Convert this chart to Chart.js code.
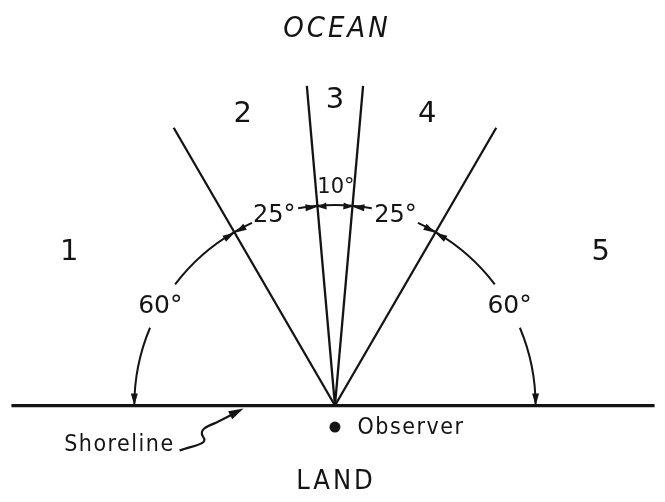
<!DOCTYPE html>
<html>
<head>
<meta charset="utf-8">
<script src="https://cdn.jsdelivr.net/npm/chart.js@4.4.1/dist/chart.umd.min.js"></script>
<style>
    html, body { margin: 0; padding: 0; background: #fff; }
    #wrap { width: 665px; height: 502px; }
</style>
</head>
<body>
<div id="wrap"><canvas id="diagram" width="665" height="502"></canvas></div>
<script>
// Sector edges in degrees, measured from the shoreline on the left
const sectorEdges = [0, 60, 85, 95, 120, 180];
const sectorLabels = ['1', '2', '3', '4', '5'];
// angle of each sector, used for the labels on the arcs
const sectorWidths = sectorEdges.slice(1).map((e, i) => e - sectorEdges[i]);
const boundaryAngles = sectorEdges.slice(1, -1);
const regionLabels = ['OCEAN', 'LAND'];
const observerLabel = 'Observer';
const shoreLabel = 'Shoreline';

// layout (diagram units = pixels, origin at the observer point on the shore)
const rayLength = 328;
const arcRadius = 204;
const labelRadius = 312;
const ink = '#141414';

function polar(angle, r) {
    const rad = angle * Math.PI / 180;
    return { x: -r * Math.cos(rad), y: r * Math.sin(rad) };
}

const rayDatasets = boundaryAngles.map(a => ({
    data: [{ x: 0, y: 0 }, polar(a, rayLength)],
    showLine: true,
    borderColor: ink,
    borderWidth: 2.3,
    pointRadius: 0
}));

// arcs, arrowheads and lettering
const annotations = {
    id: 'annotations',
    afterDatasetsDraw(chart) {
        const ctx = chart.ctx;
        const xs = chart.scales.x, ys = chart.scales.y;
        const px = v => xs.getPixelForValue(v);
        const py = v => ys.getPixelForValue(v);
        const cx = px(0), cy = py(0);
        const r = px(arcRadius) - cx;
        const toPix = (a, rr) => {
            const p = polar(a, rr);
            return [px(p.x), py(p.y)];
        };

        ctx.save();
        ctx.strokeStyle = ink;
        ctx.fillStyle = ink;
        ctx.lineWidth = 2;

        function arrowHead(tipX, tipY, dx, dy, len, half) {
            const n = Math.hypot(dx, dy);
            const ux = dx / n, uy = dy / n;
            ctx.beginPath();
            ctx.moveTo(tipX, tipY);
            ctx.lineTo(tipX - ux * len - uy * half, tipY - uy * len + ux * half);
            ctx.lineTo(tipX - ux * len + uy * half, tipY - uy * len - ux * half);
            ctx.closePath();
            ctx.fill();
        }

        function arc(a1, a2) {
            ctx.beginPath();
            ctx.arc(cx, cy, r, Math.PI + a1 * Math.PI / 180, Math.PI + a2 * Math.PI / 180, false);
            ctx.stroke();
        }

        // dimension arcs
        sectorWidths.forEach((w, i) => {
            const a0 = sectorEdges[i], a1 = sectorEdges[i + 1];
            const mid = (a0 + a1) / 2;
            const text = w + '°';
            if (w >= 20) {
                ctx.font = (w >= 50 ? 25 : 24) + 'px "DejaVu Sans"';
                const tw = ctx.measureText(text).width;
                const halfGap = (tw / 2 + 3) / r * 180 / Math.PI;
                arc(a0, mid - halfGap);
                arc(mid + halfGap, a1);
                ctx.textAlign = 'center';
                ctx.textBaseline = 'middle';
                const [lx, ly] = toPix(mid, arcRadius + 1);
                ctx.fillText(text, lx, ly + 1);
            } else {
                arc(a0, a1);
                ctx.font = '21px "DejaVu Sans"';
                ctx.textAlign = 'center';
                ctx.textBaseline = 'middle';
                const [lx, ly] = toPix(mid, arcRadius + 19);
                ctx.fillText(text, lx + 1, ly);
            }
            // arrowheads pointing out to the sector edges
            const len = w >= 20 ? 12 : 9;
            const rad0 = a0 * Math.PI / 180, rad1 = a1 * Math.PI / 180;
            const [sx, sy] = toPix(a0, arcRadius);
            arrowHead(sx, sy, -Math.sin(rad0), Math.cos(rad0), len, 3.5);
            const [ex, ey] = toPix(a1, arcRadius);
            arrowHead(ex, ey, Math.sin(rad1), -Math.cos(rad1), len, 3.5);
        });

        // sector numbers
        ctx.font = '29px "DejaVu Sans"';
        ctx.textAlign = 'center';
        ctx.textBaseline = 'middle';
        sectorLabels.forEach((s, i) => {
            const mid = (sectorEdges[i] + sectorEdges[i + 1]) / 2;
            const [lx, ly] = toPix(mid, labelRadius);
            ctx.fillText(s, lx, ly);
        });

        // OCEAN / LAND
        ctx.letterSpacing = '3px';
        ctx.font = 'oblique 29px "DejaVu Sans Condensed"';
        ctx.fillText(regionLabels[0], px(2), py(385));
        ctx.font = '27px "DejaVu Sans Condensed"';
        ctx.fillText(regionLabels[1], px(1), py(-78));

        // Observer and Shoreline
        ctx.letterSpacing = '1.5px';
        ctx.font = '23px "DejaVu Sans Condensed"';
        ctx.textAlign = 'left';
        ctx.fillText(observerLabel, px(23), py(-23));
        ctx.textAlign = 'right';
        ctx.fillText(shoreLabel, px(-163), py(-40));
        ctx.letterSpacing = '0px';

        // wiggly leader from the Shoreline label to the shore
        ctx.lineWidth = 2.2;
        ctx.beginPath();
        ctx.moveTo(px(-158), py(-46));
        ctx.bezierCurveTo(px(-145), py(-41), px(-128), py(-40), px(-134), py(-32));
        ctx.bezierCurveTo(px(-139), py(-25), px(-130), py(-21), px(-122), py(-18));
        ctx.lineTo(px(-104), py(-9));
        ctx.stroke();
        arrowHead(px(-93), py(-3), px(-93) - px(-122), py(-3) - py(-18), 15, 4.5);

        ctx.restore();
    }
};

new Chart(document.getElementById('diagram'), {
    type: 'scatter',
    data: {
        datasets: [
            {
                // shoreline
                data: [{ x: -329, y: 0 }, { x: 325, y: 0 }],
                showLine: true,
                borderColor: ink,
                borderWidth: 3.2,
                pointRadius: 0
            },
            ...rayDatasets,
            {
                // observer
                data: [{ x: 0, y: -22 }],
                pointRadius: 5.5,
                backgroundColor: ink,
                borderWidth: 0
            }
        ]
    },
    options: {
        responsive: false,
        animation: false,
        layout: { padding: 0 },
        scales: {
            x: { type: 'linear', min: -335, max: 330, display: false },
            y: { type: 'linear', min: -93, max: 409, display: false }
        },
        plugins: {
            legend: { display: false },
            tooltip: { enabled: false }
        }
    },
    plugins: [annotations]
});
</script>
</body>
</html>
